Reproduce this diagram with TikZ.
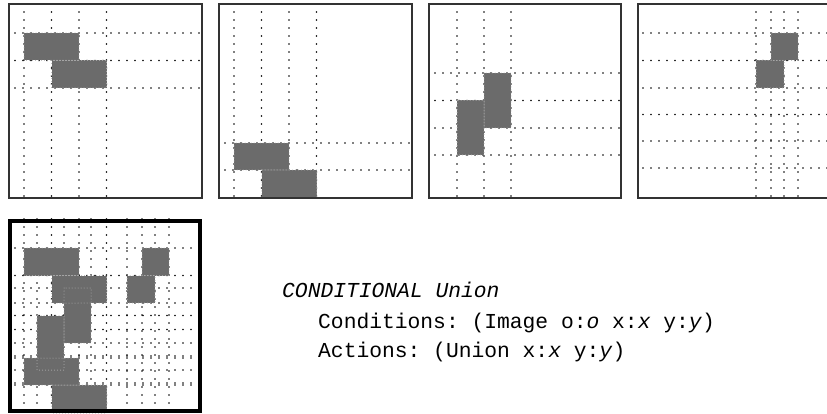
\documentclass[tikz,border=0pt]{standalone}
\usepackage{fontspec}
\setmonofont{Liberation Mono}
\begin{document}
\begin{tikzpicture}[x=1pt,y=-1pt,
  frame/.style={draw=black!80, line width=1.5pt},
  bigframe/.style={draw=black, line width=4.5pt},
  gridline/.style={line width=1.9pt, dash pattern=on 0pt off 8pt, line cap=round, draw=black},
  blkfill/.style={fill=black!58},
  blkedge/.style={draw=black!30, line width=1pt, dash pattern=on 0pt off 3pt, line cap=round},
  code/.style={anchor=base west, inner sep=0pt, font=\ttfamily\fontsize{21.3}{21.3}\selectfont}
]
\clip (0,0) rectangle (827,414);
% panel 1
\begin{scope}[shift={(9,4)}]
  \foreach \x in {15,42.5,70,97.5} \draw[gridline] (\x,0) -- (\x,194);
  \foreach \y in {29,56.5,84} \draw[gridline] (6,\y) -- (193,\y);
  \foreach \r in {{(15,29) rectangle (70,56.5)},{(42.5,56.5) rectangle (97.5,84)}} {\path[blkfill] \r;}
  \foreach \r in {{(15,29) rectangle (70,56.5)},{(42.5,56.5) rectangle (97.5,84)}} {\path[blkedge] \r;}
  \draw[frame] (0,0) rectangle (193,194);
\end{scope}
% panel 2
\begin{scope}[shift={(219,4)}]
  \foreach \x in {15,42.5,70,97.5} \draw[gridline] (\x,0) -- (\x,194);
  \foreach \y in {139,166} \draw[gridline] (6,\y) -- (193,\y);
  \foreach \r in {{(15,139) rectangle (70,166)},{(42.5,166) rectangle (97.5,194)}} {\path[blkfill] \r;}
  \foreach \r in {{(15,139) rectangle (70,166)},{(42.5,166) rectangle (97.5,194)}} {\path[blkedge] \r;}
  \draw[frame] (0,0) rectangle (193,194);
\end{scope}
% panel 3
\begin{scope}[shift={(429,4)}]
  \foreach \x in {28,55,82} \draw[gridline] (\x,0) -- (\x,194);
  \foreach \y in {69,96.5,124,151} \draw[gridline] (6,\y) -- (192,\y);
  \foreach \r in {{(55,69) rectangle (82,124)},{(28,96.5) rectangle (55,151)}} {\path[blkfill] \r;}
  \foreach \r in {{(55,69) rectangle (82,124)},{(28,96.5) rectangle (55,151)}} {\path[blkedge] \r;}
  \draw[frame] (0,0) rectangle (192,194);
\end{scope}
% panel 4
\begin{scope}[shift={(638,4)}]
  \foreach \x in {118,133,146,160} \draw[gridline] (\x,0) -- (\x,194);
  \foreach \y in {29,56.5,84,110.5,137,164} \draw[gridline] (5,\y) -- (193,\y);
  \foreach \r in {{(133,29) rectangle (160,56.5)},{(118,56.5) rectangle (146,84)}} {\path[blkfill] \r;}
  \foreach \r in {{(133,29) rectangle (160,56.5)},{(118,56.5) rectangle (146,84)}} {\path[blkedge] \r;}
  \draw[frame] (0,0) rectangle (193,194);
\end{scope}
% panel 5 (union)
\begin{scope}[shift={(9,219)}]
  \foreach \x in {15,42.5,70,97.5,28,55,82,118,133,146,160} \draw[gridline] (\x,0) -- (\x,192);
  \foreach \y in {29,56.5,84,139,166,69,96.5,124,151,110.5,137,164} \draw[gridline] (6,\y) -- (191,\y);
  \foreach \r in {{(15,29) rectangle (70,56.5)},{(42.5,56.5) rectangle (97.5,84)},
                  {(15,139) rectangle (70,166)},{(42.5,166) rectangle (97.5,194)},
                  {(55,69) rectangle (82,124)},{(28,96.5) rectangle (55,151)},
                  {(133,29) rectangle (160,56.5)},{(118,56.5) rectangle (146,84)}} {\path[blkfill] \r;}
  \foreach \r in {{(15,29) rectangle (70,56.5)},{(42.5,56.5) rectangle (97.5,84)},
                  {(15,139) rectangle (70,166)},{(42.5,166) rectangle (97.5,194)},
                  {(55,69) rectangle (82,124)},{(28,96.5) rectangle (55,151)},
                  {(133,29) rectangle (160,56.5)},{(118,56.5) rectangle (146,84)}} {\path[blkedge] \r;}
  \draw[bigframe] (1,2) rectangle (191,192);
\end{scope}
% text
\node[code] (t1) at (282,297) {\itshape CONDITIONAL Union};
\node[code] (t2) at (318,328) {Conditions: (Image o:\textit{o} x:\textit{x} y:\textit{y})};
\node[code] (t3) at (318,357) {Actions: (Union x:\textit{x} y:\textit{y})};
\end{tikzpicture}
\end{document}
